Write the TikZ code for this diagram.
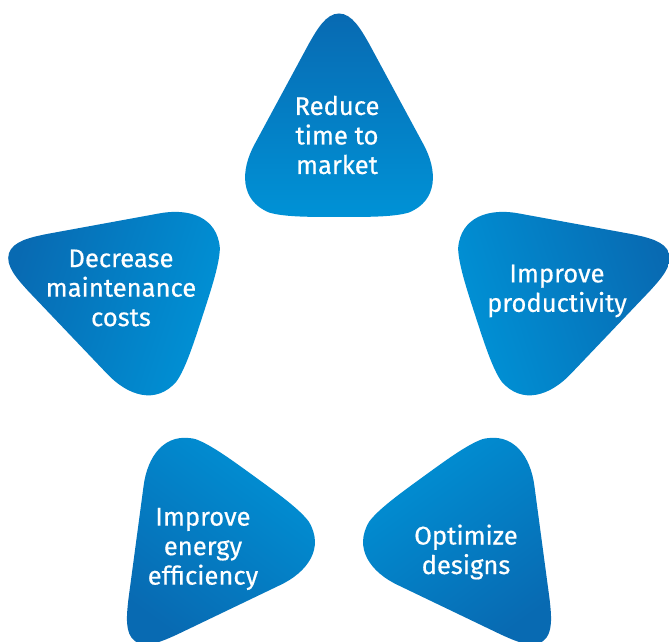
\documentclass[tikz,border=0pt]{standalone}
\usepackage{fontspec}
\setmainfont{Fira Sans}
\newfontfamily\goalfont{Fira Sans}[FakeBold=0.5]
\definecolor{tipblue}{RGB}{8,106,178}
\definecolor{baseblue}{RGB}{0,146,214}

\begin{document}
\begin{tikzpicture}[x=1pt, y=1pt,
		petal/.pic={
			\path[top color=tipblue, bottom color=baseblue, shading angle=#1, rotate=#1]
			(0,347) .. controls (-13,347) and (-22,331) .. (-30,317)
			-- (-84,217) .. controls (-99,190) and (-99,160) .. (-70,148)
			.. controls (-55,143.5) and (-30,143.5) .. (0,143.5)
			.. controls (30,143.5) and (55,143.5) .. (70,148)
			.. controls (99,160) and (99,190) .. (84,217)
			-- (30,317) .. controls (22,331) and (13,347) .. (0,347) -- cycle;
		},
		goal/.style={text=white, align=center, font=\goalfont\fontsize{25.6}{29.5}\selectfont}]
		\useasboundingbox (-339,-281.5) rectangle (330,360.5);
		\pic (top) at (0,0) {petal=0};
		\pic (right) at (0,0) {petal=-72};
		\pic (lowright) at (0,0) {petal=-144};
		\pic (lowleft) at (0,0) {petal=144};
		\pic (left) at (0,0) {petal=72};
		\node[goal] (reduce) at (-2,225.5) {Reduce\\time to\\market};
		\node[goal] (productivity) at (218,69.5) {Improve\\productivity};
		\node[goal] (designs) at (127,-191.5) {Optimize\\designs};
		\node[goal] (energy) at (-136,-188.5) {Improve\\energy\\efficiency};
		\node[goal] (maintenance) at (-218,72.5) {Decrease\\maintenance\\costs};
	\end{tikzpicture}
\end{document}
